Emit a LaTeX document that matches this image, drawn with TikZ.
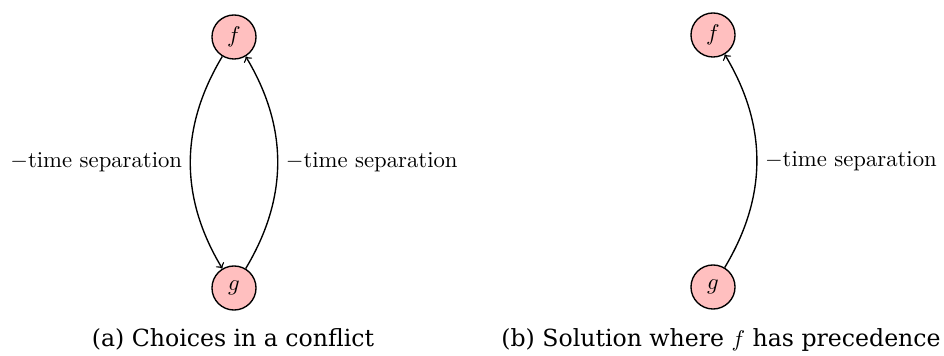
\documentclass[tikz,border=0pt]{standalone}
\usepackage{fontspec}
\newfontfamily\capfont{DejaVu Serif}
\begin{document}
\begin{tikzpicture}[x=0.4405pt,y=-0.4405pt,
  vertex/.style={circle,draw,fill=red!25,line width=0.6pt,minimum size=19.4pt,inner sep=0pt},
  link/.style={->,line width=0.6pt},
  lbl/.style={font=\normalsize},
  capt/.style={anchor=base,font=\capfont\fontsize{10.4pt}{12.5pt}\selectfont}]
  \useasboundingbox (0,0) rectangle (944,356);

  % (a) both orientations of the conflict
  \node[vertex] (fa) at (234,37) {$f$};
  \node[vertex] (ga) at (234,288) {$g$};
  \draw[link] (fa) to[bend right=31] node[midway,left,lbl] {$-$time separation} (ga);
  \draw[link] (ga) to[bend right=31] node[midway,right,lbl] {$-$time separation} (fa);
  \node[capt] (capa) at (233,347) {(a) Choices in a conflict};

  % (b) the chosen orientation
  \node[vertex] (fb) at (713,35) {$f$};
  \node[vertex] (gb) at (713,287) {$g$};
  \draw[link] (gb) to[bend right=31] node[midway,right,lbl] {$-$time separation} (fb);
  \node[capt] (capb) at (721,347) {(b) Solution where $f$ has precedence};
\end{tikzpicture}
\end{document}
